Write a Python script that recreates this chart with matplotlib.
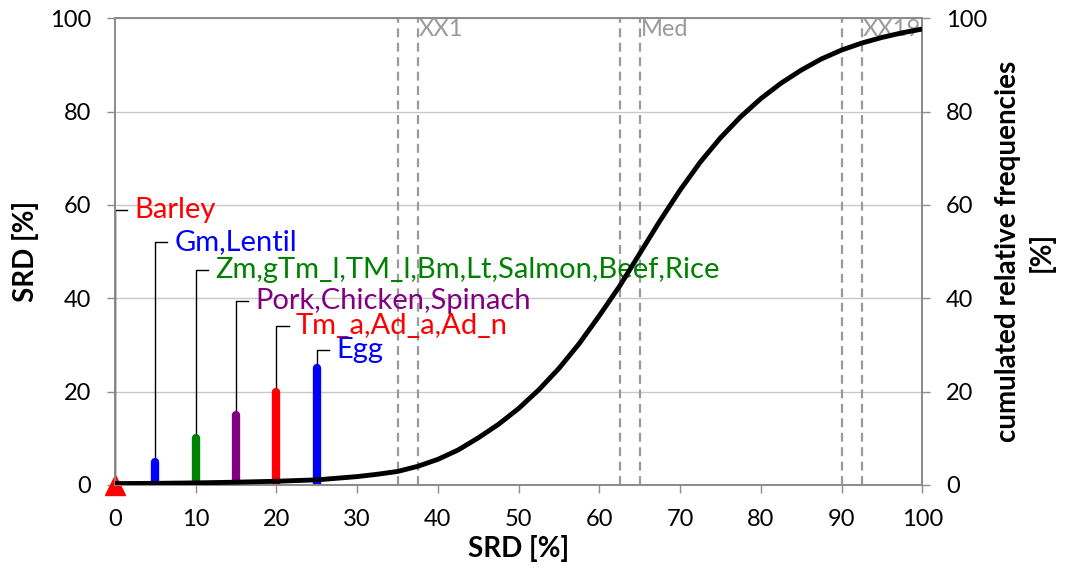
import matplotlib
matplotlib.use("Agg")
import matplotlib.pyplot as plt

plt.rcParams['font.family'] = ['Lato', 'DejaVu Sans']

# SRD bars (x position = SRD value, height = SRD value)
srd_x = [0, 5, 10, 15, 20, 25]
srd_h = [0, 5, 10, 15, 20, 25]
labels = ["Barley", "Gm,Lentil", "Zm,gTm_l,TM_l,Bm,Lt,Salmon,Beef,Rice",
          "Pork,Chicken,Spinach", "Tm_a,Ad_a,Ad_n", "Egg"]
label_y = [59, 52, 46, 39.5, 34, 29]
colors = ["#ff0000", "#0000ff", "#008000", "#800080", "#ff0000", "#0000ff"]

# cumulated relative frequencies curve
cdf_x = [0, 5, 10, 15, 20, 25, 30, 32.5, 35, 37.5, 40, 42.5, 45, 47.5, 50, 52.5, 55, 57.5, 60,
         62.5, 65, 67.5, 70, 72.5, 75, 77.5, 80, 82.5, 85, 87.5, 90, 92.5, 95, 97.5, 100]
cdf_y = [0.3, 0.35, 0.45, 0.6, 0.8, 1.1, 1.8, 2.3, 2.9, 4.0, 5.5, 7.5, 10.1, 13.0, 16.4, 20.4, 25.0, 30.3, 36.3,
         42.6, 49.6, 56.6, 63.2, 69.2, 74.4, 78.9, 82.8, 86.1, 88.9, 91.3, 93.2, 94.7, 95.9, 96.9, 97.7]

# percentile markers
pct_x = [35, 37.5, 62.5, 65, 90, 92.5]
pct_names = ["XX1", "Med", "XX19"]
pct_name_x = [37.5, 65, 92.5]

fig = plt.figure(figsize=(10.65, 5.73), dpi=100)
ax = fig.add_axes([0.108, 0.1536, 0.758, 0.8144])
ax2 = ax.twinx()

grey = "#8c8c8c"
for a in (ax, ax2):
    a.set_xlim(0, 100)
    a.set_ylim(0, 100)
    for s in a.spines.values():
        s.set_color(grey)
        s.set_linewidth(1.3)
    a.tick_params(colors=grey, labelcolor="black", labelsize=17, length=6, width=1, pad=11)

ax.set_xticks(range(0, 101, 10))
ax.set_yticks(range(0, 101, 20))
ax2.set_yticks(range(0, 101, 20))
ax.grid(axis="y", color="#c8c8c8", linewidth=1)
ax.set_axisbelow(True)

for xv in pct_x:
    ax.axvline(xv, color="#9a9a9a", linestyle=(0, (4, 2.5)), linewidth=1.6, zorder=1)
for name, xv in zip(pct_names, pct_name_x):
    ax.text(xv + 0.1, 97.6, name, color="#9a9a9a", fontsize=17, ha="left", va="center")

# leader lines + labels
for xv, h, ly, lab, c in zip(srd_x, srd_h, label_y, labels, colors):
    ax.plot([xv, xv, xv + 1.5], [h, ly, ly], color="black", linewidth=1, zorder=3)
    ax.text(xv + 2.4, ly, lab, color=c, fontsize=21, ha="left", va="center", zorder=5)

# bars
for xv, h, c in zip(srd_x[1:], srd_h[1:], colors[1:]):
    ax.plot([xv, xv], [0, h], color=c, linewidth=6, solid_capstyle="round", zorder=4)
ax.plot(srd_x[0], srd_h[0], marker="^", color="#ff0000", markersize=15,
        clip_on=False, zorder=6, linestyle="none")

ax2.plot(cdf_x, cdf_y, color="black", linewidth=3.5, zorder=5)

ax.set_xlabel("SRD [%]", fontsize=20, fontweight="bold", labelpad=4)
ax.set_ylabel("SRD [%]", fontsize=20, fontweight="bold", labelpad=8)
ax2.set_ylabel("cumulated relative frequencies\n[%]", fontsize=20, fontweight="bold",
               labelpad=6, linespacing=1.3)

fig.savefig("out.png", dpi=100)
